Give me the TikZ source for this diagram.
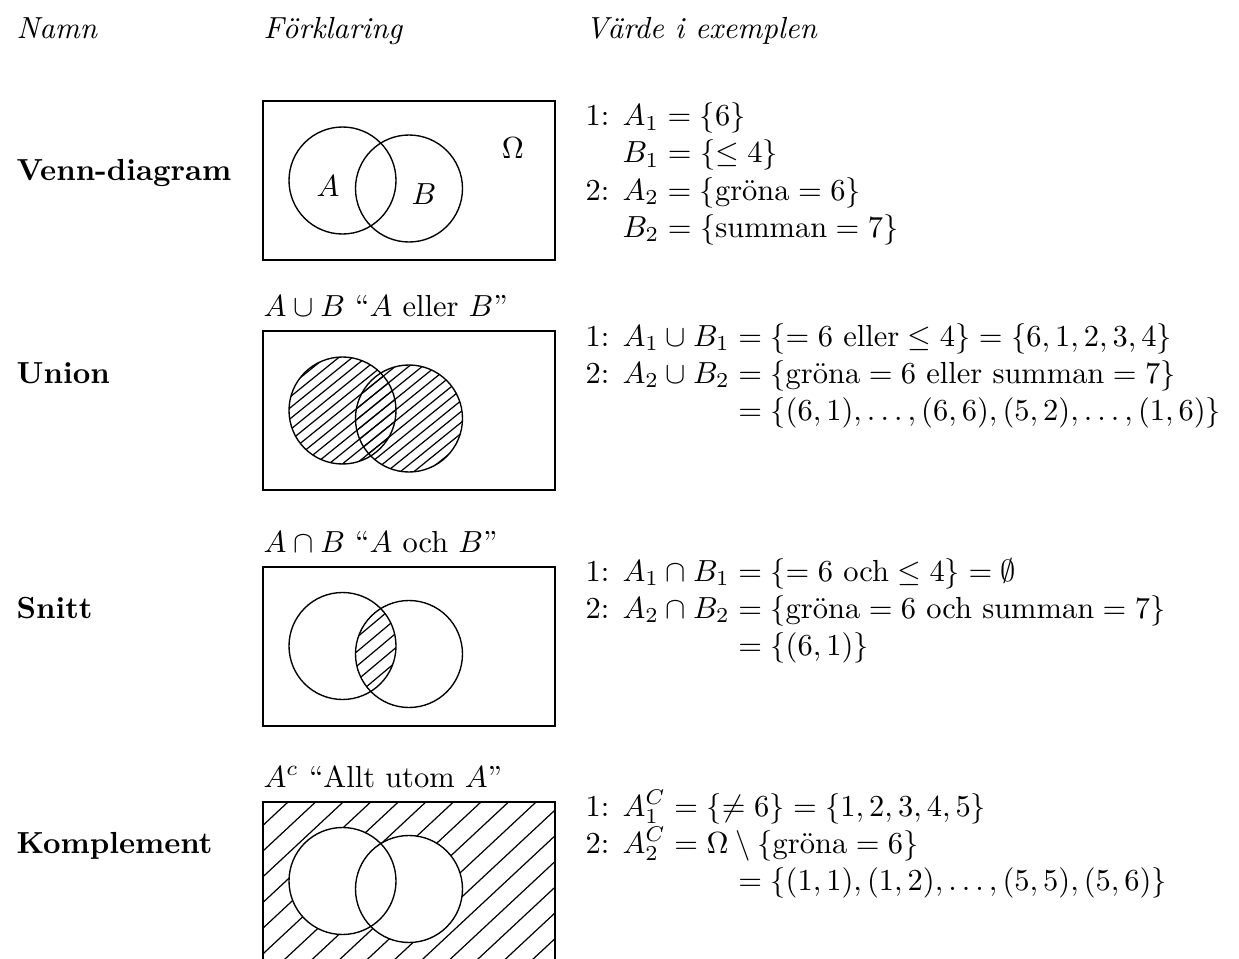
\documentclass[tikz,border=0pt]{standalone}
\usetikzlibrary{calc}
\tikzset{
  lbl/.style={anchor=base west, inner sep=0pt, font=\bfseries},
  hdr/.style={anchor=base west, inner sep=0pt, font=\itshape},
  txt/.style={anchor=base west, inner sep=0pt},
  frame/.style={line width=0.45pt},
  circ/.style={line width=0.45pt},
  hatchline/.style={line width=0.4pt},
}
\newcommand\myhatch[4]{% cx, cy, spacing, angle
  \begin{scope}[shift={(#1,#2)}, rotate=#4]
    \foreach \k in {-40,...,40} \draw[hatchline] (-450,\k*#3) -- (450,\k*#3);
  \end{scope}}
\begin{document}
\begin{tikzpicture}[x=0.328pt, y=-0.328pt]
\useasboundingbox (0,0) rectangle (1239,959);

% headers
\node[hdr] (hname) at (16,38) {Namn};
\node[hdr] (hexpl) at (263,38) {Förklaring};
\node[hdr] (hval)  at (585,38) {Värde i exemplen};

% left labels
\node[lbl] (l1) at (16,181) {Venn-diagram};
\node[lbl] (l2) at (16,383) {Union};
\node[lbl] (l3) at (16,618) {Snitt};
\node[lbl] (l4) at (16,853) {Komplement};

% ---------- Box 1: Venn diagram ----------
\coordinate (A1) at (342.5,180.5);
\coordinate (B1) at (409,188.5);
\draw[frame] (263,101) rectangle (555,260);
\draw[circ] (A1) circle[radius=53.5];
\draw[circ] (B1) circle[radius=53.5];
\node (la) at (328,186) {$A$};
\node (lb) at (424,194) {$B$};
\node (lo) at (513,148) {$\Omega$};

% ---------- Box 2: Union ----------
\node[txt] (c2) at (263,316) {$A\cup B$ \textquotedblleft$A$ eller $B$\textquotedblright};
\coordinate (A2) at (342.5,410.5);
\coordinate (B2) at (409,418.5);
\begin{scope}
  \clip (A2) circle[radius=53.5];
  \myhatch{409}{410}{8.5}{39}
\end{scope}
\begin{scope}
  \clip (B2) circle[radius=53.5];
  \myhatch{409}{410}{8.5}{39}
\end{scope}
\draw[frame] (263,331) rectangle (555,490);
\draw[circ] (A2) circle[radius=53.5];
\draw[circ] (B2) circle[radius=53.5];

% ---------- Box 3: Intersection ----------
\node[txt] (c3) at (263,552) {$A\cap B$ \textquotedblleft$A$ och $B$\textquotedblright};
\coordinate (A3) at (342.5,646);
\coordinate (B3) at (409,654);
\begin{scope}
  \clip (A3) circle[radius=53.5];
  \clip (B3) circle[radius=53.5];
  \myhatch{376}{650}{11}{40}
\end{scope}
\draw[frame] (263,567) rectangle (555,726);
\draw[circ] (A3) circle[radius=53.5];
\draw[circ] (B3) circle[radius=53.5];

% ---------- Box 4: Complement ----------
\node[txt] (c4) at (263,787) {$A^c$ \textquotedblleft Allt utom $A$\textquotedblright};
\coordinate (A4) at (342.5,881);
\coordinate (B4) at (409,889);
\begin{scope}
  \clip (263,802) rectangle (555,959);
  \myhatch{288}{802}{18.8}{43}
\end{scope}
\fill[white] (A4) circle[radius=53.5];
\fill[white] (B4) circle[radius=53.5];
\draw[circ] (A4) circle[radius=53.5];
\draw[circ] (B4) circle[radius=53.5];
\draw[frame] (263,959) -- (263,802) -- (555,802) -- (555,959);

% ---------- Right column ----------
% block 1
\node[txt] (n11) at (585,126) {1:};
\node[txt] (f11) at (622,126) {$A_1 = \{6\}$};
\node[txt] (f12) at (622,163) {$B_1 = \{\le 4\}$};
\node[txt] (n13) at (585,200) {2:};
\node[txt] (f13) at (622,200) {$A_2 = \{\mbox{gröna} = 6\}$};
\node[txt] (f14) at (622,237) {$B_2 = \{\mbox{summan} = 7\}$};

% block 2
\node[txt] (n21) at (585,346) {1:};
\node[txt] (f21) at (622,346) {$A_1\cup B_1 = \{= 6 \mbox{ eller}\le 4\} = \{6,1,2,3,4\}$};
\node[txt] (n22) at (585,383) {2:};
\node[txt] (f22) at (622,383) {$A_2\cup B_2 = \{\mbox{gröna} = 6 \mbox{ eller summan} = 7\}$};
\node[txt] (f23) at (622,420) {$\hphantom{A_2\cup B_2}{} = \{(6,1),\ldots,(6,6),(5,2),\ldots,(1,6)\}$};

% block 3
\node[txt] (n31) at (585,581) {1:};
\node[txt] (f31) at (622,581) {$A_1\cap B_1 = \{= 6 \mbox{ och}\le 4\} = \emptyset$};
\node[txt] (n32) at (585,618) {2:};
\node[txt] (f32) at (622,618) {$A_2\cap B_2 = \{\mbox{gröna} = 6 \mbox{ och summan} = 7\}$};
\node[txt] (f33) at (622,655) {$\hphantom{A_2\cap B_2}{} = \{(6,1)\}$};

% block 4
\node[txt] (n41) at (585,816) {1:};
\node[txt] (f41) at (622,816) {$\smash{A_1^C} = \{\ne 6\} = \{1,2,3,4,5\}$};
\node[txt] (n42) at (585,853) {2:};
\node[txt] (f42) at (622,853) {$\smash{A_2^C} = \Omega\setminus\{\mbox{gröna} = 6\}$};
\node[txt] (f43) at (622,890) {$\hphantom{A_2\cap B_2}{} = \{(1,1),(1,2),\ldots,(5,5),(5,6)\}$};
\end{tikzpicture}
\end{document}
